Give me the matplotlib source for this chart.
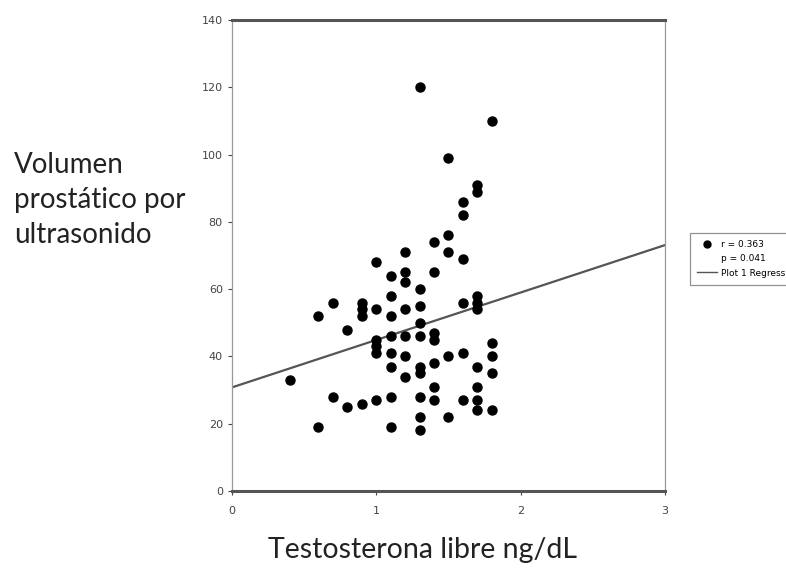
import matplotlib.pyplot as plt
from matplotlib.lines import Line2D

# testosterona libre (ng/dL) vs volumen prostatico
testo = [0.4,
         0.6, 0.6,
         0.7, 0.7,
         0.8, 0.8,
         0.9, 0.9, 0.9, 0.9,
         1.0, 1.0, 1.0, 1.0, 1.0, 1.0,
         1.1, 1.1, 1.1, 1.1, 1.1, 1.1, 1.1, 1.1,
         1.2, 1.2, 1.2, 1.2, 1.2, 1.2, 1.2,
         1.3, 1.3, 1.3, 1.3, 1.3, 1.3, 1.3, 1.3, 1.3, 1.3,
         1.4, 1.4, 1.4, 1.4, 1.4, 1.4, 1.4,
         1.5, 1.5, 1.5, 1.5, 1.5,
         1.6, 1.6, 1.6, 1.6, 1.6, 1.6,
         1.7, 1.7, 1.7, 1.7, 1.7, 1.7, 1.7, 1.7, 1.7,
         1.8, 1.8, 1.8, 1.8, 1.8]
volumen = [33,
           52, 19,
           56, 28,
           48, 25,
           56, 54, 52, 26,
           68, 54, 45, 43, 41, 27,
           64, 58, 52, 46, 41, 37, 28, 19,
           71, 65, 62, 54, 46, 40, 34,
           120, 60, 55, 50, 46, 37, 35, 28, 22, 18,
           74, 65, 47, 45, 38, 31, 27,
           99, 76, 71, 40, 22,
           86, 82, 69, 56, 41, 27,
           91, 89, 58, 56, 54, 37, 31, 27, 24,
           110, 44, 40, 35, 24]

# recta de regresion
intercepto = 30.8
pendiente = 14.1
reg_x = [0, 3]

fig = plt.figure(figsize=(7.86, 5.71), dpi=100)
ax = fig.add_axes([0.295, 0.140, 0.551, 0.825])

ax.plot(testo, volumen, 'o', color='black', ms=6.5, zorder=3)
ax.plot(reg_x, [intercepto + pendiente * v for v in reg_x],
        color='#555555', lw=1.6)

ax.set_xlim(0, 3)
ax.set_ylim(0, 140)
ax.set_xticks([0, 1, 2, 3])
ax.set_yticks([0, 20, 40, 60, 80, 100, 120, 140])
ax.tick_params(labelsize=8, colors='#444444', length=3, width=0.8,
               direction='out')
ax.tick_params(axis='x', pad=8)

for s in ['top', 'bottom']:
    ax.spines[s].set_linewidth(2.2)
    ax.spines[s].set_color('#555555')
for s in ['left', 'right']:
    ax.spines[s].set_linewidth(0.9)
    ax.spines[s].set_color('#999999')

fig.text(0.018, 1 - 200 / 571, 'Volumen\nprostático por\nultrasonido',
         fontsize=20, family='Lato', va='center', ha='left',
         linespacing=1.45, color='#222222')
fig.text(423 / 786, 1 - 550 / 571, 'Testosterona libre ng/dL',
         fontsize=20.5, family='Lato', ha='center', va='center',
         color='#222222')

handles = [Line2D([], [], marker='o', color='black', ls='', ms=5),
           Line2D([], [], ls='', marker=''),
           Line2D([], [], color='#555555', lw=1)]
labels = ['r = 0.363', 'p = 0.041', 'Plot 1 Regression']
leg = fig.legend(handles, labels, loc='upper left',
                 bbox_to_anchor=(685 / 786, 1 - 228 / 571),
                 fontsize=6.5, fancybox=False, handlelength=2.2,
                 labelspacing=0.6, borderpad=0.8, handletextpad=0.5)
leg.get_frame().set_edgecolor('#777777')
leg.get_frame().set_linewidth(0.9)

fig.savefig('out.png', dpi=100)
